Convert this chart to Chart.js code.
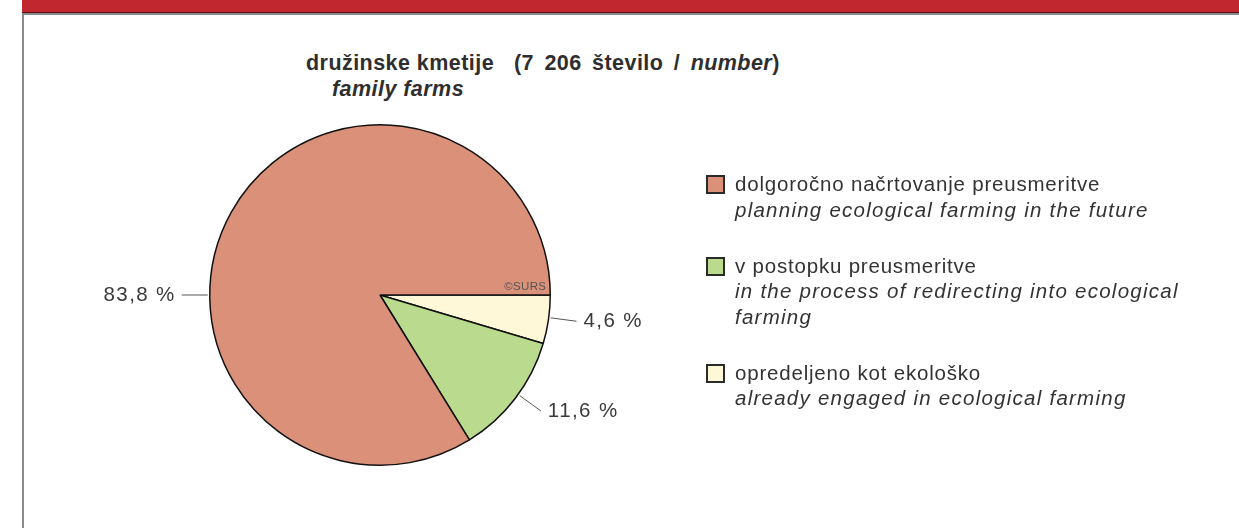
<!DOCTYPE html>
<html>
<head>
<meta charset="utf-8">
<script src="https://cdn.jsdelivr.net/npm/chart.js@4.4.1/dist/chart.umd.min.js"></script>
<style>
  html, body { margin: 0; padding: 0; background: #fff; }
  body { width: 1239px; height: 528px; position: relative; overflow: hidden;
         font-family: "Liberation Sans", Arial, sans-serif; color: #333; }
  #band { position: absolute; left: 22px; top: 0; width: 1217px; height: 12px;
          background: #c1272f; border-bottom: 1px solid #5a1015; }
  #bandShade { position: absolute; left: 22px; top: 13px; width: 1217px; height: 2px; background: #8a8a8a; }
  #edge { position: absolute; left: 22px; top: 13px; width: 2px; height: 515px; background: #8a8a8a; }
  #farmChart { position: absolute; left: 0; top: 0; }
  .title { position: absolute; font-size: 21.5px; font-weight: bold; white-space: nowrap;
           line-height: 26px; letter-spacing: 0.45px; color: #2e2e2e; }
  #legend { position: absolute; left: 706px; top: 171px; width: 490px; }
  .item { position: relative; padding-left: 29px; font-size: 20.5px; line-height: 25.5px;
          margin-bottom: 30.5px; letter-spacing: 0.8px; }
  .item i { display: block; letter-spacing: 1.25px; }
  .swatch { position: absolute; left: 0; top: 4px; width: 15px; height: 15px; border: 2px solid #2a2a2a; }
</style>
</head>
<body>
<div id="band"></div>
<div id="bandShade"></div>
<div id="edge"></div>
<div class="title" style="left:306px; top:50px;">družinske kmetije</div>
<div class="title" style="left:514px; top:50px; word-spacing:4px;">(7 206 število / <i>number</i>)</div>
<div class="title" style="left:332px; top:76px;"><i>family farms</i></div>
<canvas id="farmChart" width="1239" height="528"></canvas>
<div id="legend"></div>
<script>
// slices go clockwise from 3 o'clock
const categories = ["opredeljeno kot ekološko", "v postopku preusmeritve", "dolgoročno načrtovanje preusmeritve"];
const categoriesEn = ["already engaged in ecological farming", "in the process of redirecting into ecological farming", "planning ecological farming in the future"];
const shares = [4.6, 11.6, 83.8];
const shareLabels = ["4,6 %", "11,6 %", "83,8 %"];
const sliceColors = ["#fff8d8", "#badb8e", "#db9179"];

// legend lists the slices in reverse order
const legend = document.getElementById("legend");
for (let i = categories.length - 1; i >= 0; i--) {
  const item = document.createElement("div");
  item.className = "item";
  const sw = document.createElement("span");
  sw.className = "swatch";
  sw.style.background = sliceColors[i];
  item.appendChild(sw);
  item.appendChild(document.createTextNode(categories[i]));
  const en = document.createElement("i");
  en.textContent = categoriesEn[i];
  item.appendChild(en);
  legend.appendChild(item);
}

// percentage labels with short leader lines
const sliceLabels = {
  id: "sliceLabels",
  afterDatasetsDraw(chart) {
    const ctx = chart.ctx;
    const arcs = chart.getDatasetMeta(0).data;
    ctx.save();
    arcs.forEach((arc, i) => {
      const { x, y, startAngle, endAngle, outerRadius } =
        arc.getProps(["x", "y", "startAngle", "endAngle", "outerRadius"], true);
      let a = startAngle + (endAngle - startAngle) * 0.46;
      if (endAngle - startAngle > Math.PI) a = Math.PI; // big slice: label straight left
      const cos = Math.cos(a), sin = Math.sin(a);
      const x1 = x + cos * (outerRadius + 2), y1 = y + sin * (outerRadius + 2);
      const x2 = x + cos * (outerRadius + 28), y2 = y + sin * (outerRadius + 28);
      ctx.strokeStyle = "#555";
      ctx.lineWidth = 1;
      ctx.beginPath();
      ctx.moveTo(x1, y1);
      ctx.lineTo(x2, y2);
      ctx.stroke();
      ctx.font = "20.5px 'Liberation Sans', Arial, sans-serif";
      ctx.letterSpacing = "1.4px";
      ctx.fillStyle = "#3a3a3a";
      ctx.textBaseline = "middle";
      ctx.textAlign = cos < 0 ? "right" : "left";
      ctx.fillText(shareLabels[i], x2 + (cos < 0 ? -6 : 7), y2);
      if (i === 0) {
        ctx.font = "11.5px 'Liberation Sans', Arial, sans-serif";
        ctx.letterSpacing = "0.3px";
        ctx.fillStyle = "#555";
        ctx.textAlign = "right";
        ctx.textBaseline = "alphabetic";
        ctx.fillText("©SURS", x + outerRadius - 4, y - 5);
      }
    });
    ctx.restore();
  }
};

new Chart(document.getElementById("farmChart"), {
  type: "pie",
  data: {
    labels: categories,
    datasets: [{
      data: shares,
      backgroundColor: sliceColors,
      borderColor: "#111",
      borderWidth: 1.5
    }]
  },
  options: {
    responsive: false,
    animation: false,
    rotation: 90,
    layout: { padding: { left: 209, right: 688, top: 124, bottom: 62 } },
    plugins: {
      legend: { display: false },
      tooltip: { enabled: false }
    }
  },
  plugins: [sliceLabels]
});
</script>
</body>
</html>
